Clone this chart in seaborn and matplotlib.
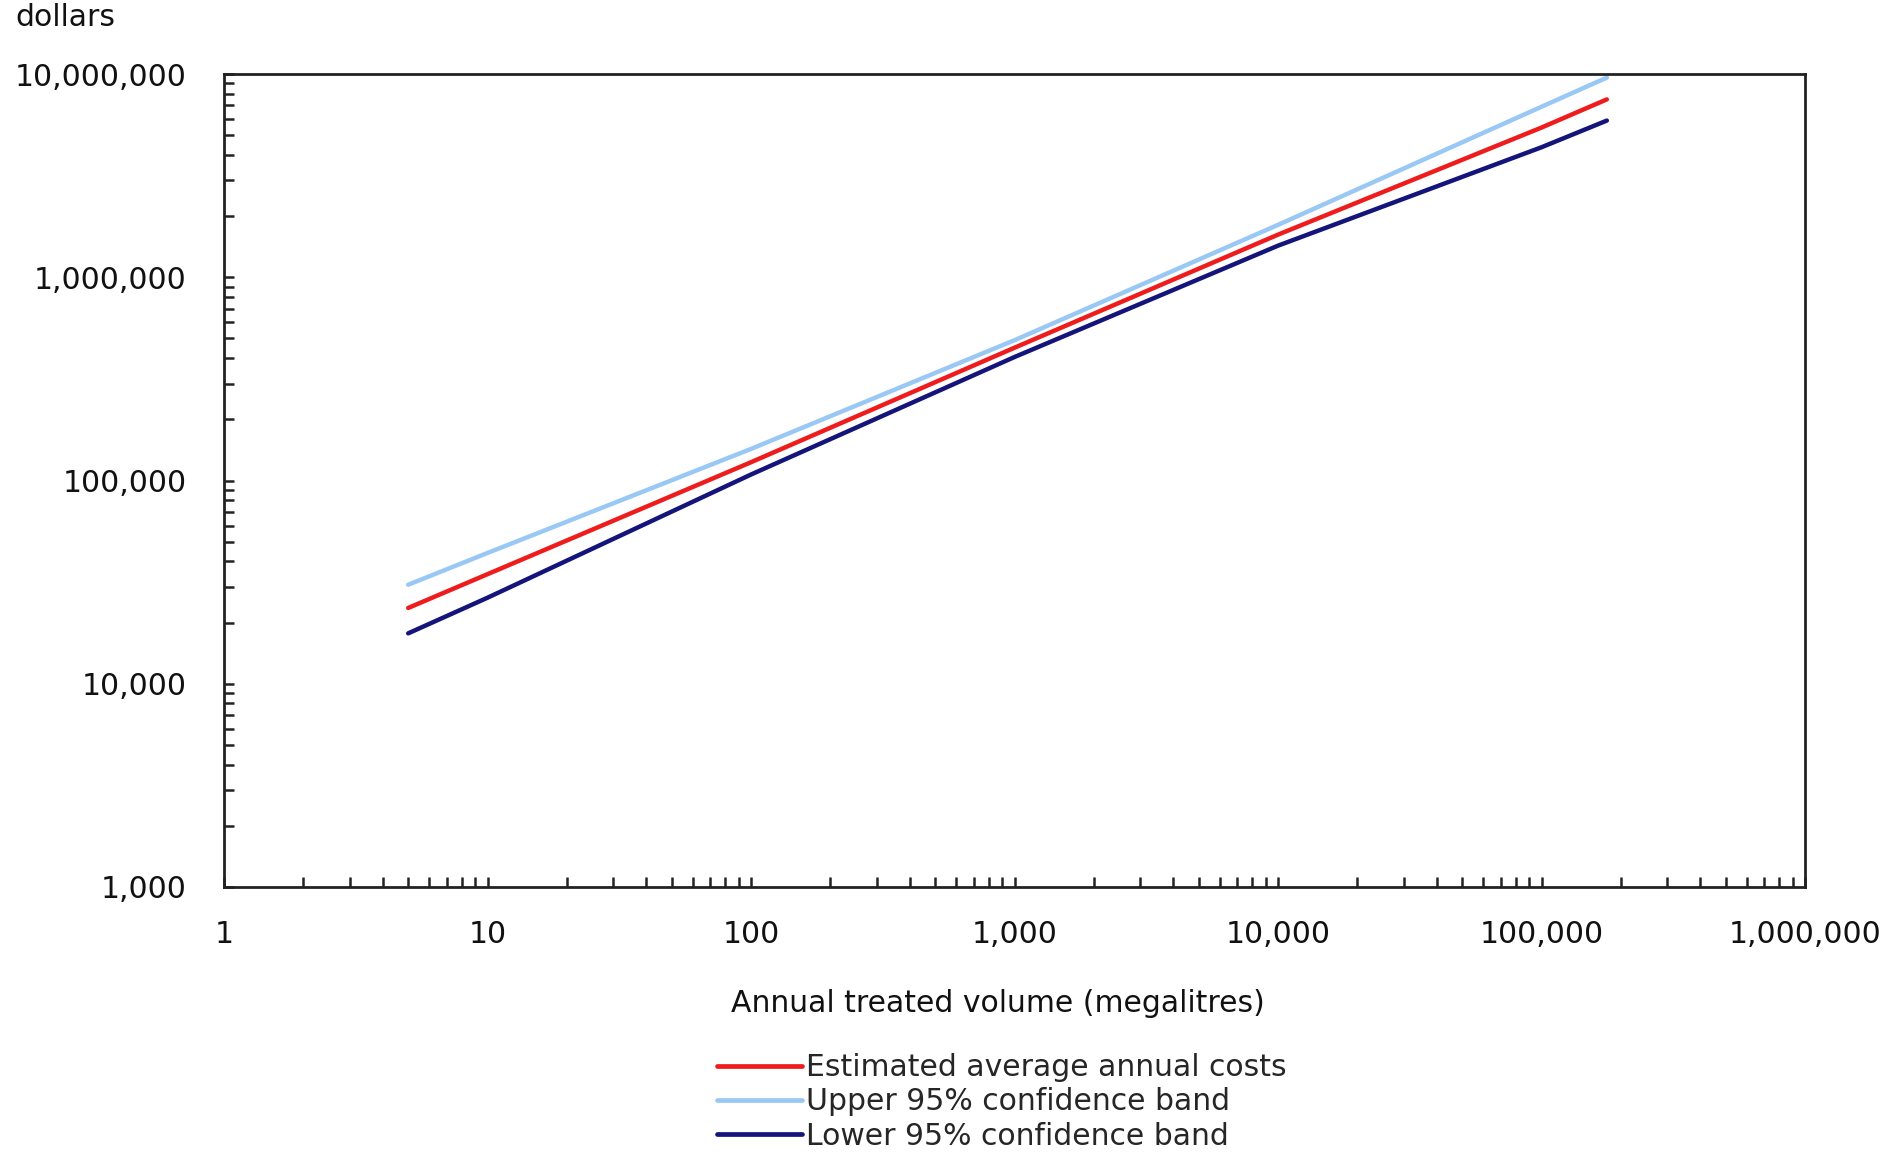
import matplotlib
matplotlib.use("Agg")
import matplotlib.pyplot as plt
import matplotlib.ticker as mticker
import numpy as np
import pandas as pd
import seaborn as sns

# ---- data ----
volume = [5, 10, 100, 1000, 10000, 100000, 177000]
estimated = [23600, 34600, 123000, 450000, 1620000, 5450000, 7500000]
upper_band = [30700, 44000, 143000, 490000, 1810000, 6900000, 9600000]
lower_band = [17700, 26500, 107000, 405000, 1430000, 4360000, 5900000]

series_names = ["Estimated average annual costs",
                "Upper 95% confidence band",
                "Lower 95% confidence band"]
series_colors = ["#ee1c1c", "#99c8f5", "#14147a"]

x_ticks = [1, 10, 100, 1000, 10000, 100000, 1000000]
y_ticks = [1000, 10000, 100000, 1000000, 10000000]

df = pd.concat([
    pd.DataFrame({"volume": volume, "cost": vals, "series": name})
    for name, vals in zip(series_names, [estimated, upper_band, lower_band])
], ignore_index=True)

sns.set_style("white")
plt.rcParams["font.family"] = ["DejaVu Sans"]

FS = 21.5
fig = plt.figure(figsize=(19.02, 11.60), dpi=100)
ax = fig.add_axes([224/1902, 1 - 887/1160, (1805 - 224)/1902, (887 - 74)/1160])

sns.lineplot(data=df, x="volume", y="cost", hue="series",
             hue_order=series_names, palette=series_colors,
             linewidth=3.2, ax=ax, legend=False, sort=True)

ax.set_xscale("log")
ax.set_yscale("log")
ax.set_xlim(1, 1e6)
ax.set_ylim(1e3, 1e7)
ax.set_xticks(x_ticks)
ax.set_yticks(y_ticks)
fmt = mticker.FuncFormatter(lambda v, p: f"{v:,.0f}")
ax.xaxis.set_major_formatter(fmt)
ax.yaxis.set_major_formatter(fmt)
ax.xaxis.set_minor_locator(mticker.LogLocator(base=10, subs=np.arange(2, 10), numticks=20))
ax.yaxis.set_minor_locator(mticker.LogLocator(base=10, subs=np.arange(2, 10), numticks=20))
ax.xaxis.set_minor_formatter(mticker.NullFormatter())
ax.yaxis.set_minor_formatter(mticker.NullFormatter())

for side in ["left", "bottom", "top", "right"]:
    ax.spines[side].set_visible(True)
    ax.spines[side].set_linewidth(2.0)
    ax.spines[side].set_color("#222222")

ax.tick_params(axis="both", which="both", direction="in", length=7,
               width=1.8, color="#222222", bottom=True, left=True,
               top=False, right=False)
ax.tick_params(axis="x", which="major", pad=24, labelsize=FS, labelcolor="#111111")
ax.tick_params(axis="y", which="major", pad=27, labelsize=FS, labelcolor="#111111")
ax.set_xlabel("")
ax.set_ylabel("")

fig.text(15/1902, 1 - 17/1160, "dollars", fontsize=FS, color="#111111",
         ha="left", va="center")
fig.text(998/1902, 1 - 1004/1160, "Annual treated volume (megalitres)",
         fontsize=FS, color="#111111", ha="center", va="center")

handles = [plt.Line2D([], [], color=c, linewidth=3.4) for c in series_colors]
fig.legend(handles, series_names, loc="center", bbox_to_anchor=(1002/1902, 1 - 1102/1160),
           frameon=False, fontsize=FS, handlelength=2.85, handletextpad=0.12,
           labelspacing=0.17, borderpad=0)

fig.savefig("out.png", dpi=100, facecolor="white")
